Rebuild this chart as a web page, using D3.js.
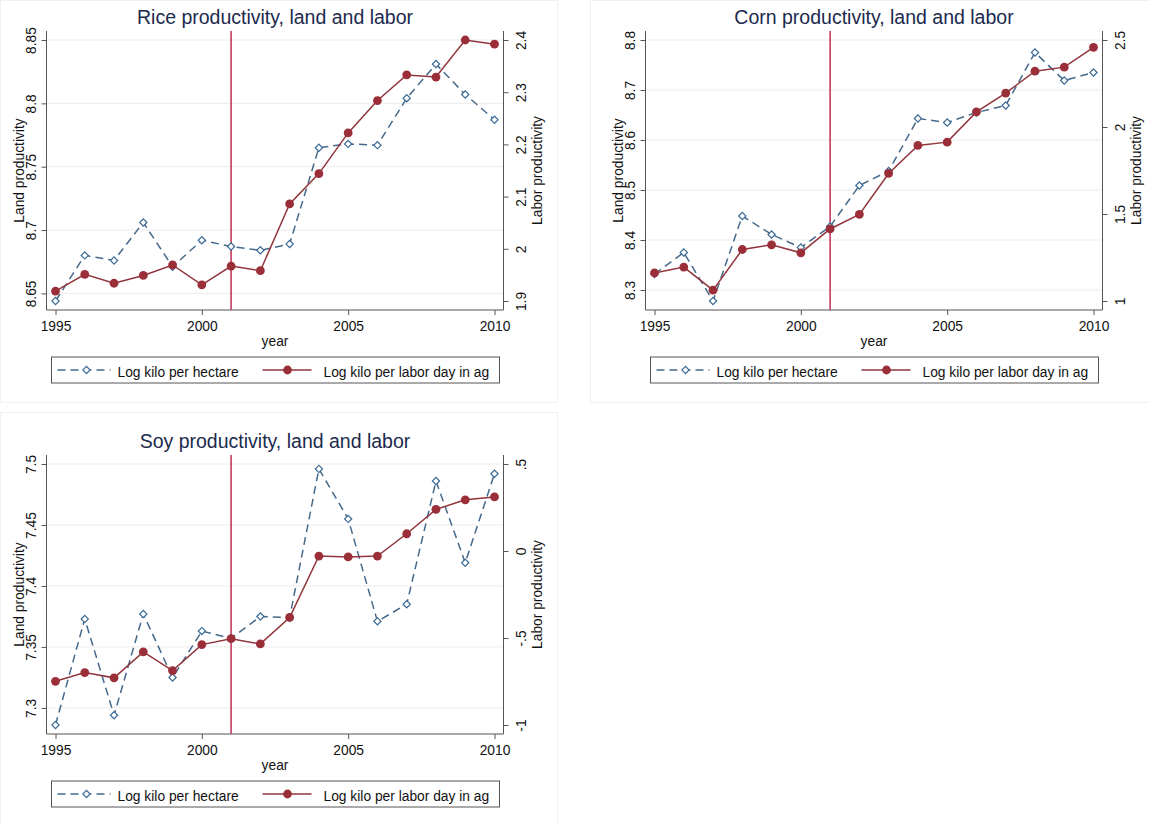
<!DOCTYPE html>
<html>
<head>
<meta charset="utf-8">
<script src="https://cdn.jsdelivr.net/npm/d3@7"></script>
<style>
body { margin: 0; background: #fff; }
svg text { font-family: "Liberation Sans", Arial, Helvetica, sans-serif; }
</style>
</head>
<body>
<div id="chart"></div>
<script>
// values
var years = [1995, 1996, 1997, 1998, 1999, 2000, 2001, 2002, 2003, 2004, 2005, 2006, 2007, 2008, 2009, 2010];
var yearTicks = [1995, 2000, 2005, 2010];
var policyYear = 2001;

var riceLand  = [8.644, 8.680, 8.676, 8.706, 8.671, 8.692, 8.687, 8.684, 8.689, 8.765, 8.768, 8.767, 8.804, 8.831, 8.807, 8.787];
var riceLabor = [1.919, 1.951, 1.934, 1.949, 1.969, 1.931, 1.967, 1.958, 2.086, 2.144, 2.222, 2.284, 2.333, 2.329, 2.400, 2.392];
var riceLandTicks  = [8.65, 8.7, 8.75, 8.8, 8.85];
var riceLaborTicks = [1.9, 2, 2.1, 2.2, 2.3, 2.4];

var cornLand  = [8.332, 8.375, 8.278, 8.448, 8.411, 8.385, 8.427, 8.509, 8.538, 8.643, 8.635, 8.655, 8.669, 8.775, 8.719, 8.735];
var cornLabor = [1.161, 1.195, 1.062, 1.296, 1.323, 1.277, 1.414, 1.498, 1.733, 1.894, 1.913, 2.087, 2.195, 2.321, 2.344, 2.458];
var cornLandTicks  = [8.3, 8.4, 8.5, 8.6, 8.7, 8.8];
var cornLaborTicks = [1, 1.5, 2, 2.5];

var soyLand  = [7.286, 7.373, 7.294, 7.377, 7.325, 7.363, 7.357, 7.375, 7.374, 7.496, 7.455, 7.371, 7.385, 7.486, 7.419, 7.492];
var soyLabor = [-0.749, -0.699, -0.729, -0.580, -0.687, -0.538, -0.504, -0.534, -0.382, -0.029, -0.034, -0.029, 0.099, 0.239, 0.294, 0.311];
var soyLandTicks  = [7.3, 7.35, 7.4, 7.45, 7.5];
var soyLaborTicks = [-1, -0.5, 0, 0.5];

var landName = 'Log kilo per hectare';
var laborName = 'Log kilo per labor day in ag';

// layout inside one panel
var box = {left: 46.5, right: 503.5, top: 31, bottom: 310};
var pad = 9;

var landColor = '#46698a';
var diamondColor = '#3a6a95';
var laborColor = '#90353b';
var markColor = '#9b2f39';
var vlineColor = '#c43a5e';

function formatTick(d) {
    return String(d).replace(/^(-?)0\./, '$1.');
}

var Panel = function(configuration) {
    this.configure(configuration);
}

Panel.prototype.configure = function(configuration) {
    this.title = configuration.title;
    this.land = configuration.land;
    this.labor = configuration.labor;
    this.landTicks = configuration.landTicks;
    this.laborTicks = configuration.laborTicks;
    this.ox = configuration.ox;
    this.oy = configuration.oy;
    this.frame = configuration.frame;
}

Panel.prototype.styleAxis = function(axisG) {
    axisG.select('.domain').remove();
    axisG.selectAll('.tick line').attr('stroke', '#555').attr('stroke-width', 1);
    axisG.selectAll('.tick text').attr('fill', '#111').style('font-size', '13.8px');
}

Panel.prototype.draw = function(svg) {
    var p = this;

    svg.append('rect')
        .attr('x', p.frame[0] + 0.5).attr('y', p.frame[1] + 0.5)
        .attr('width', p.frame[2] - p.frame[0]).attr('height', p.frame[3] - p.frame[1])
        .attr('fill', 'none').attr('stroke', '#f1f1f1');

    var g = svg.append('g').attr('transform', 'translate(' + p.ox + ',' + p.oy + ')');

    var x = d3.scaleLinear().domain(d3.extent(years)).range([box.left + pad, box.right - pad]);
    var yL = d3.scaleLinear().domain(d3.extent(p.land.concat(p.landTicks))).range([box.bottom - pad, box.top + pad]);
    var yR = d3.scaleLinear().domain(d3.extent(p.labor.concat(p.laborTicks))).range([box.bottom - pad, box.top + pad]);

    // grid
    g.append('g').selectAll('line').data(p.landTicks).join('line')
        .attr('x1', box.left).attr('x2', box.right)
        .attr('y1', function(d) { return yL(d); })
        .attr('y2', function(d) { return yL(d); })
        .attr('stroke', '#ececec').attr('stroke-width', 1);

    // axes
    var axL = g.append('g').attr('transform', 'translate(' + box.left + ',0)')
        .call(d3.axisLeft(yL).tickValues(p.landTicks).tickSize(5).tickFormat(formatTick));
    this.styleAxis(axL);
    axL.selectAll('.tick text').attr('x', null).attr('dy', null)
        .attr('text-anchor', 'middle').attr('transform', 'translate(-11,0) rotate(-90)');

    var axR = g.append('g').attr('transform', 'translate(' + box.right + ',0)')
        .call(d3.axisRight(yR).tickValues(p.laborTicks).tickSize(5).tickFormat(formatTick));
    this.styleAxis(axR);
    axR.selectAll('.tick text').attr('x', null).attr('dy', null)
        .attr('text-anchor', 'middle').attr('transform', 'translate(22,0) rotate(-90)');

    var axB = g.append('g').attr('transform', 'translate(0,' + box.bottom + ')')
        .call(d3.axisBottom(x).tickValues(yearTicks).tickSize(5).tickFormat(d3.format('d')));
    this.styleAxis(axB);
    axB.selectAll('.tick text').attr('dy', null).attr('y', 20.7);

    var axisLine = function(x1, y1, x2, y2) {
        g.append('line').attr('x1', x1).attr('y1', y1).attr('x2', x2).attr('y2', y2)
            .attr('stroke', '#555').attr('stroke-width', 1);
    };
    axisLine(box.left, box.top, box.left, box.bottom);
    axisLine(box.right, box.top, box.right, box.bottom);
    axisLine(box.left, box.bottom, box.right, box.bottom);

    // axis titles
    var mid = (box.top + box.bottom) / 2;
    g.append('text').attr('transform', 'translate(24,' + mid + ') rotate(-90)')
        .attr('text-anchor', 'middle').style('font-size', '13.8px').attr('fill', '#111')
        .text('Land productivity');
    g.append('text').attr('transform', 'translate(' + (box.right + 38) + ',' + mid + ') rotate(-90)')
        .attr('text-anchor', 'middle').style('font-size', '13.8px').attr('fill', '#111')
        .text('Labor productivity');
    g.append('text').attr('x', (box.left + box.right) / 2).attr('y', 346)
        .attr('text-anchor', 'middle').style('font-size', '13.8px').attr('fill', '#111')
        .text('year');
    g.append('text').attr('x', (box.left + box.right) / 2).attr('y', 24)
        .attr('text-anchor', 'middle').style('font-size', '19.5px').attr('fill', '#1c2a4e')
        .text(p.title);

    // policy line
    g.append('line')
        .attr('x1', x(policyYear)).attr('x2', x(policyYear))
        .attr('y1', box.top).attr('y2', box.bottom)
        .attr('stroke', vlineColor).attr('stroke-width', 1.6);

    // land series
    var landLine = d3.line()
        .x(function(d, i) { return x(years[i]); })
        .y(function(d) { return yL(d); });
    g.append('path').datum(p.land)
        .attr('fill', 'none').attr('stroke', landColor).attr('stroke-width', 1.5)
        .attr('stroke-dasharray', '8,5').attr('d', landLine);
    var diamond = d3.symbol().type(d3.symbolSquare).size(26);
    g.append('g').selectAll('path').data(p.land).join('path')
        .attr('d', diamond)
        .attr('transform', function(d, i) { return 'translate(' + x(years[i]) + ',' + yL(d) + ') rotate(45)'; })
        .attr('fill', '#fff').attr('stroke', diamondColor).attr('stroke-width', 1.2);

    // labor series
    var laborLine = d3.line()
        .x(function(d, i) { return x(years[i]); })
        .y(function(d) { return yR(d); });
    g.append('path').datum(p.labor)
        .attr('fill', 'none').attr('stroke', laborColor).attr('stroke-width', 1.5)
        .attr('d', laborLine);
    g.append('g').selectAll('circle').data(p.labor).join('circle')
        .attr('cx', function(d, i) { return x(years[i]); })
        .attr('cy', function(d) { return yR(d); })
        .attr('r', 4.4).attr('fill', markColor);

    // legend
    var lg = g.append('g');
    lg.append('rect').attr('x', box.left + 5).attr('y', 357)
        .attr('width', box.right - box.left - 9).attr('height', 26)
        .attr('fill', '#fff').attr('stroke', '#555').attr('stroke-width', 1);
    lg.append('line').attr('x1', box.left + 11).attr('x2', box.left + 64)
        .attr('y1', 370).attr('y2', 370)
        .attr('stroke', landColor).attr('stroke-width', 1.5).attr('stroke-dasharray', '8,5');
    lg.append('path').attr('d', diamond)
        .attr('transform', 'translate(' + (box.left + 40) + ',370) rotate(45)')
        .attr('fill', '#fff').attr('stroke', diamondColor).attr('stroke-width', 1.2);
    lg.append('text').attr('x', box.left + 71).attr('y', 376.5)
        .style('font-size', '13.8px').attr('fill', '#111').text(landName);
    lg.append('line').attr('x1', box.left + 216).attr('x2', box.left + 265)
        .attr('y1', 370).attr('y2', 370)
        .attr('stroke', laborColor).attr('stroke-width', 1.5);
    lg.append('circle').attr('cx', box.left + 241).attr('cy', 370)
        .attr('r', 4.4).attr('fill', markColor);
    lg.append('text').attr('x', box.left + 277).attr('y', 376.5)
        .style('font-size', '13.8px').attr('fill', '#111').text(laborName);
}

var svg = d3.select('#chart').append('svg')
    .attr('width', 1149).attr('height', 823);

var panels = [
    new Panel({title: 'Rice productivity, land and labor', land: riceLand, labor: riceLabor,
        landTicks: riceLandTicks, laborTicks: riceLaborTicks, ox: 0, oy: 0, frame: [0, 0, 557, 402]}),
    new Panel({title: 'Corn productivity, land and labor', land: cornLand, labor: cornLabor,
        landTicks: cornLandTicks, laborTicks: cornLaborTicks, ox: 599, oy: 0, frame: [590, 0, 1149, 402]}),
    new Panel({title: 'Soy productivity, land and labor', land: soyLand, labor: soyLabor,
        landTicks: soyLandTicks, laborTicks: soyLaborTicks, ox: 0, oy: 424, frame: [0, 412, 557, 823]})
];

panels.forEach(function(panel) { panel.draw(svg); });
</script>
</body>
</html>
